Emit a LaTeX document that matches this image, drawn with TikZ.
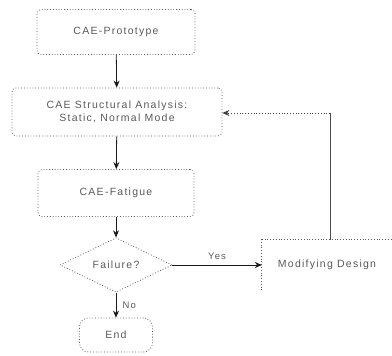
\documentclass[tikz,border=0pt]{standalone}
\usepackage{fontspec}
\setmainfont{Liberation Sans}[LetterSpace=12]
\usetikzlibrary{shapes.geometric,arrows.meta}
\begin{document}
\begin{tikzpicture}[x=1pt,y=-1pt,
  txt/.style={font=\fontsize{10.5}{12.5}\selectfont, text=black!65},
  box/.style={draw=black!65, dotted, thick, rounded corners=4pt, minimum width=#1, inner sep=0pt, txt, align=center},
  flow/.style={-{Stealth[length=7pt,width=6pt]}, black!90, thick},
  lab/.style={txt, font=\fontsize{9.5}{11}\selectfont}
]
\useasboundingbox (0,0) rectangle (392,356);
\node[box=158pt, minimum height=45pt] (proto) at (116,32) {CAE-Prototype};
\node[box=210pt, minimum height=48pt] (struct) at (117,112) {CAE  Structural Analysis:\\Static, Normal Mode};
\node[box=156pt, minimum height=47pt] (fatigue) at (116,193) {CAE-Fatigue};
\node[diamond, draw=black!65, dotted, thick, minimum width=112pt, minimum height=46pt, inner sep=0pt, txt] (fail) at (116,265) {Failure?};
\node[box=73pt, minimum height=34pt, rounded corners=9pt] (endn) at (116,335) {End};
\node[minimum width=130pt, minimum height=50pt, inner sep=0pt, txt] (modify) at (327,265) {Modifying Design};
\draw[black!65, dotted, thick] (modify.south west) -- (modify.north west) -- (modify.north east);
\coordinate (turn) at (330,113);
\draw[flow] (proto) -- (struct);
\draw[flow] (struct) -- (fatigue);
\draw[flow] (fatigue) -- (fail);
\draw[flow] (fail) -- node[lab, right, xshift=3pt] {No} (endn);
\draw[flow] (fail.east) -- node[lab, above, yshift=2pt] {Yes} (modify.west);
\draw[black!70, thick] (modify.north -| turn) -- (turn);
\draw[-{Stealth[length=7pt,width=6pt]}, black!75, dotted, thick] (turn) -- (struct.east |- turn);
\end{tikzpicture}
\end{document}
